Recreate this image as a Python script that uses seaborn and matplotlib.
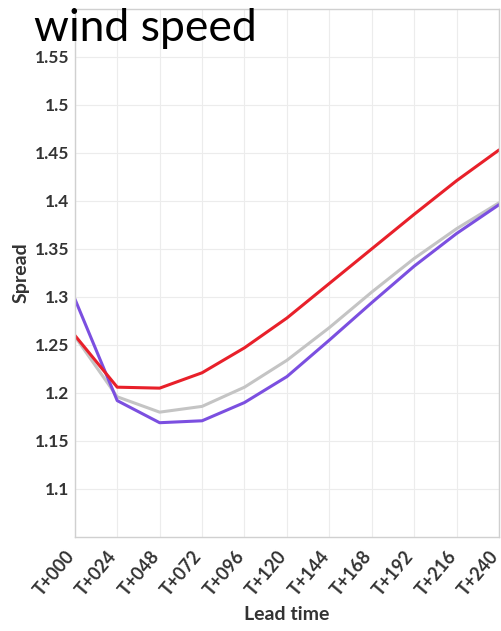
import matplotlib
matplotlib.use("Agg")
import matplotlib.pyplot as plt
import matplotlib.transforms as mtransforms
import seaborn as sns
import pandas as pd

lead_times = ["T+000", "T+024", "T+048", "T+072", "T+096", "T+120",
              "T+144", "T+168", "T+192", "T+216", "T+240"]
red_vals = [1.260, 1.206, 1.205, 1.221, 1.247, 1.278, 1.314, 1.350, 1.386, 1.421, 1.453]
gray_vals = [1.259, 1.196, 1.180, 1.186, 1.206, 1.234, 1.268, 1.305, 1.340, 1.371, 1.398]
purple_vals = [1.298, 1.192, 1.169, 1.171, 1.190, 1.217, 1.255, 1.294, 1.332, 1.366, 1.396]
series_names = ["red", "gray", "purple"]
colors = {"red": "#e8202a", "gray": "#c4c4c4", "purple": "#7b4fe0"}

rows = []
for name, vals in zip(series_names, [red_vals, gray_vals, purple_vals]):
    for i, v in enumerate(vals):
        rows.append({"idx": i, "spread": v, "series": name})
df = pd.DataFrame(rows)

sns.set_theme(style="whitegrid")
plt.rcParams['font.family'] = ['Lato', 'DejaVu Sans']

fig = plt.figure(figsize=(5.02, 6.31), dpi=100)
ax = fig.add_axes([0.149, 0.149, 0.845, 0.837])

sns.lineplot(data=df, x="idx", y="spread", hue="series",
             hue_order=["gray", "purple", "red"], palette=colors,
             linewidth=2.2, legend=False, ax=ax)

ax.set_xlim(0, 10)
ax.set_ylim(1.05, 1.6)
ax.tick_params(axis="x", length=0, pad=8)
ax.tick_params(axis="y", length=0, pad=4)
ax.set_xticks(range(len(lead_times)))
ax.set_xticklabels(lead_times, rotation=50, ha="right", va="top", rotation_mode="anchor",
                   fontsize=13, fontweight="bold", color="#333333")
offset = mtransforms.ScaledTranslation(-0.10, 0, fig.dpi_scale_trans)
for lab in ax.get_xticklabels():
    lab.set_transform(lab.get_transform() + offset)
yt = [1.1, 1.15, 1.2, 1.25, 1.3, 1.35, 1.4, 1.45, 1.5, 1.55]
ax.set_yticks(yt)
ax.set_yticklabels(["1.1", "1.15", "1.2", "1.25", "1.3", "1.35", "1.4", "1.45", "1.5", "1.55"],
                   fontsize=12.5, fontweight="bold", color="#333333")
ax.grid(True, color="#ececec", linewidth=0.8)
for s in ax.spines.values():
    s.set_color("#d0d0d0")
    s.set_linewidth(1.0)

ax.set_xlabel("Lead time", fontsize=14, fontweight="bold", color="#333333", labelpad=5)
ax.set_ylabel("Spread", fontsize=14, fontweight="bold", color="#333333", labelpad=4)

fig.text(0.068, 0.988, "wind speed", fontsize=32, color="black", va="top", ha="left")

fig.savefig("out.png", dpi=100)
